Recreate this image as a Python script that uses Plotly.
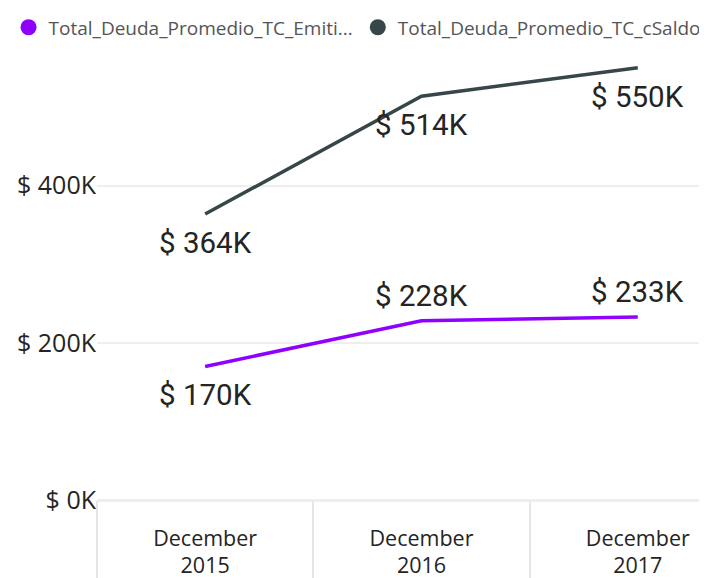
import plotly.graph_objects as go

categories = ["December<br>2015", "December<br>2016", "December<br>2017"]
emitidas = [170000, 228000, 233000]
csaldo = [364000, 514000, 550000]
emitidas_labels = ["$ 170K", "$ 228K", "$ 233K"]
csaldo_labels = ["$ 364K", "$ 514K", "$ 550K"]
emitidas_pos = ["below", "above", "above"]
csaldo_pos = ["below", "below", "below"]
y_tickvals = [0, 200000, 400000]
y_ticktext = ["$ 0K", "$ 200K", "$ 400K"]

name_e = "Total_Deuda_Promedio_TC_Emiti..."
name_c = "Total_Deuda_Promedio_TC_cSaldo"
col_e = "#9000FF"
col_c = "#374649"

fig = go.Figure()
fig.add_trace(go.Scatter(x=categories, y=csaldo, mode="lines",
                         line=dict(color=col_c, width=3.5), showlegend=False, hoverinfo="skip"))
fig.add_trace(go.Scatter(x=categories, y=emitidas, mode="lines",
                         line=dict(color=col_e, width=3.5), showlegend=False, hoverinfo="skip"))
# legend entries (circles)
fig.add_trace(go.Scatter(x=[None], y=[None], mode="markers", name=name_e,
                         marker=dict(color=col_e, size=16)))
fig.add_trace(go.Scatter(x=[None], y=[None], mode="markers", name=name_c,
                         marker=dict(color=col_c, size=16)))

label_font = dict(family="Roboto, DejaVu Sans", size=29.5, color="#252423")
for vals, labs, poss in [(csaldo, csaldo_labels, csaldo_pos), (emitidas, emitidas_labels, emitidas_pos)]:
    for c, v, t, p in zip(categories, vals, labs, poss):
        fig.add_annotation(x=c, y=v, text=t, showarrow=False, font=label_font,
                           xanchor="center", yanchor="middle",
                           yshift=(-29 if p == "below" else 25))

fig.update_layout(
    width=699, height=570,
    margin=dict(l=87, r=0, t=37, b=78),
    plot_bgcolor="white", paper_bgcolor="white",
    font=dict(family="Open Sans, DejaVu Sans", color="#252423"),
    legend=dict(orientation="h", xref="paper", yref="paper",
                x=-0.145, y=1.09, xanchor="left", yanchor="top",
                font=dict(size=19, color="#555555"), itemwidth=30,
                itemsizing="trace", traceorder="normal"),
    showlegend=True,
)
fig.update_xaxes(type="category", range=[-0.5, 2.32], tickson="boundaries",
                 ticks="outside", ticklen=78, tickcolor="#e6e6e6", tickwidth=1.5,
                 showgrid=False, showline=False, zeroline=False, automargin=False,
                 ticklabelstandoff=23,
                 tickfont=dict(size=21.5, color="#252423"))
fig.update_yaxes(range=[0, 574000], tickvals=y_tickvals, ticktext=y_ticktext,
                 showgrid=True, gridcolor="#eeeeee", gridwidth=1.5,
                 zeroline=True, zerolinecolor="#eeeeee", zerolinewidth=2.5,
                 showline=False, ticks="", ticklabelstandoff=0, automargin=False,
                 tickfont=dict(size=25, color="#252423"))

fig.write_html("out.html")
